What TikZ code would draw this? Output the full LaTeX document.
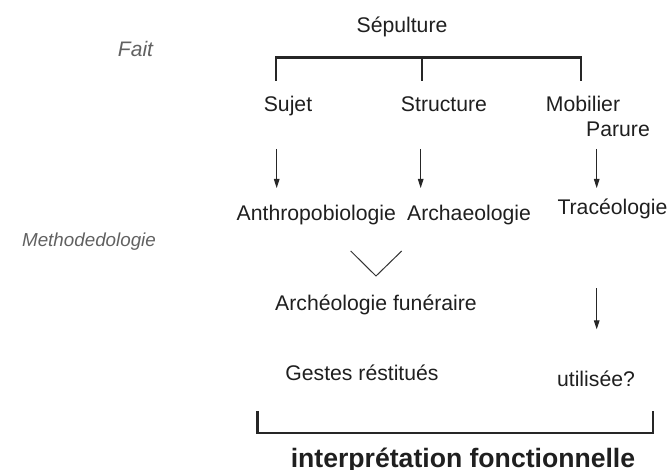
\documentclass[tikz,border=0pt]{standalone}
\usepackage{fontspec}
\setmainfont{Liberation Sans}
\usetikzlibrary{arrows.meta, positioning}

\begin{document}
\begin{tikzpicture}[x=0.5pt, y=-0.5pt,
            txt/.style={inner sep=0pt, anchor=base, font=\fontsize{10.6}{12}\selectfont, text=black!88},
            side/.style={inner sep=0pt, anchor=base, font=\fontsize{10.5}{12}\selectfont\itshape, text=black!62},
            bracket/.style={draw=black!85, line width=1.2pt},
            arr/.style={draw=black!85, line width=0.5pt, -{Triangle[length=4.5pt,width=2.8pt]}},
            vee/.style={draw=black!80, line width=0.5pt}
        ]
            \useasboundingbox (0,0) rectangle (670,470);

% Levels on the left
            \node[side] (fait) at (135.5,57) {Fait};
            \node[side, font=\fontsize{9.4}{11}\selectfont\itshape] (methodo) at (89,247) {Methodedologie};

% Top of the tree
            \node[txt] (sep) at (402,33) {Sépulture};
            \coordinate (bl) at (276,81);
            \coordinate (bm) at (421.7,81);
            \coordinate (br) at (580.7,81);
            \coordinate (btop) at (421.7,57.5);
            \draw[bracket] (bl) |- (btop) -| (br);
            \draw[bracket] (bm) -- (btop);

% Facts
            \node[txt] (sujet) at (288,111.7) {Sujet};
            \node[txt] (structure) at (444,111.7) {Structure};
            \node[txt] (mobilier) at (583,111.7) {Mobilier};
            \node[txt] (parure) at (618,137) {Parure};

% Arrows down
            \foreach \n/\x in {a/276.7, b/420.7, c/596.7} {
                \coordinate (\n1) at (\x,149);
                \coordinate (\n2) at (\x,188);
                \draw[arr] (\n1) -- (\n2);
            }

% Methods
            \node[txt] (anthro) at (316.3,220.7) {Anthropobiologie};
            \node[txt] (archaeo) at (469,220.7) {Archaeologie};
            \node[txt] (traceo) at (612.5,215) {Tracéologie};

% Merge into funerary archaeology
            \coordinate (v1) at (350.7,251);
            \coordinate (v2) at (376,276);
            \coordinate (v3) at (401.7,251);
            \draw[vee] (v1) -- (v2) -- (v3);
            \node[txt] (archfun) at (376,310.7) {Archéologie funéraire};

            \coordinate (d1) at (596.7,288.3);
            \coordinate (d2) at (596.7,329.3);
            \draw[arr] (d1) -- (d2);

% Results
            \node[txt] (gestes) at (362,380.7) {Gestes réstitués};
            \node[txt] (utilisee) at (596,386.7) {utilisée?};

% Bottom bracket
            \coordinate (cl) at (257.3,411);
            \coordinate (cr) at (653,411);
            \coordinate (cb) at (455,433.3);
            \draw[bracket] (cl) |- (cb) -| (cr);
            \node[txt, font=\fontsize{13.3}{15}\selectfont\bfseries] (interp) at (463,467) {interprétation fonctionnelle};

        \end{tikzpicture}
\end{document}
